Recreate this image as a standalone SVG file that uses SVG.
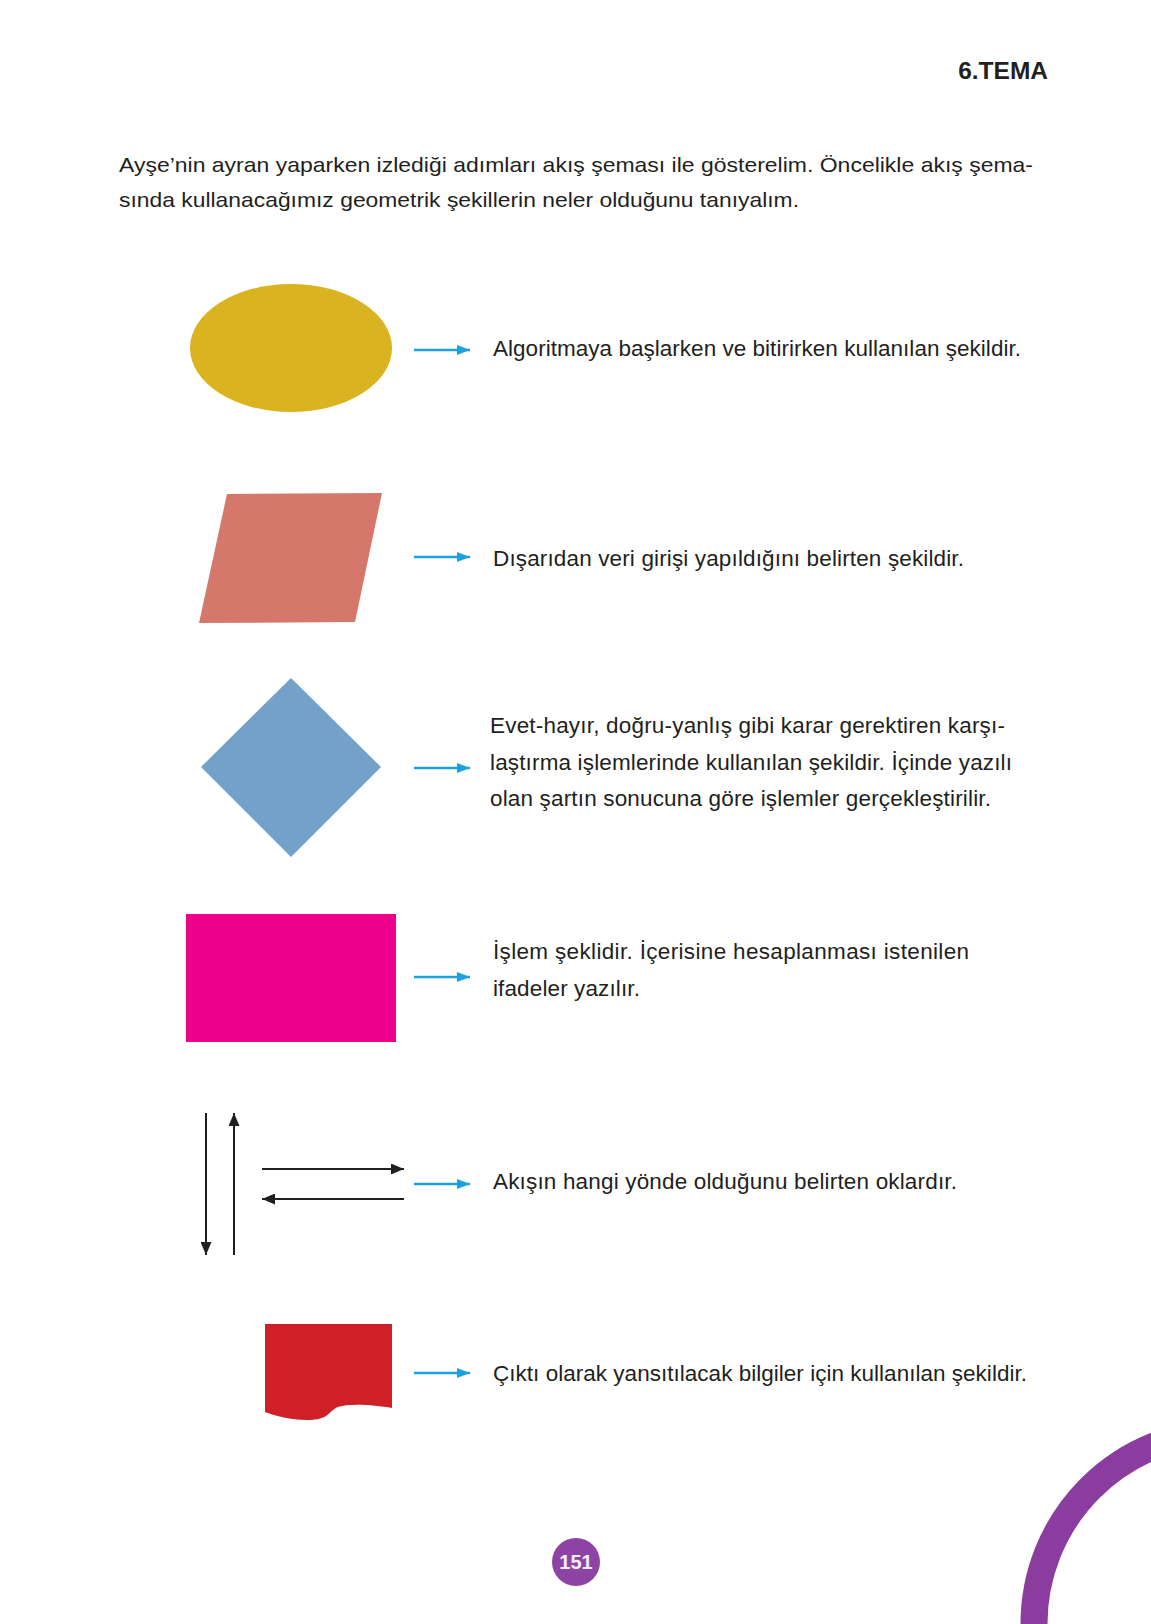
<svg xmlns="http://www.w3.org/2000/svg" width="1151" height="1624" viewBox="0 0 1151 1624">
<defs>
<style>
.t{font-family:"Liberation Sans","Noto Sans",Arial,sans-serif;font-size:22.5px;fill:#231f20}
.p{font-family:"Liberation Sans","Noto Sans",Arial,sans-serif;font-size:21px;fill:#231f20}
.blk{stroke:#231f20;stroke-width:2;fill:none}
.blu{stroke:#1ba1dd;stroke-width:2.6;fill:none;marker-end:url(#hb)}
</style>
<marker id="hk" markerUnits="userSpaceOnUse" markerWidth="13" markerHeight="11" refX="13" refY="5.5" orient="auto"><path d="M0,0 L13,5.5 L0,11 Z" fill="#231f20"/></marker>
<marker id="hb" markerUnits="userSpaceOnUse" markerWidth="13" markerHeight="10" refX="13" refY="5" orient="auto"><path d="M0,0 L13,5 L0,10 Z" fill="#1ba1dd"/></marker>
</defs>
<rect width="1151" height="1624" fill="#ffffff"/>
<g id="header">
<text x="1048" y="79" text-anchor="end" style="font-family:'Liberation Sans',Arial,sans-serif;font-weight:bold;font-size:24.5px;fill:#231f20">6.TEMA</text>
<text class="p" x="119" y="172" textLength="914" lengthAdjust="spacingAndGlyphs">Ayşe’nin ayran yaparken izlediği adımları akış şeması ile gösterelim. Öncelikle akış şema-</text>
<text class="p" x="119" y="207" textLength="680" lengthAdjust="spacingAndGlyphs">sında kullanacağımız geometrik şekillerin neler olduğunu tanıyalım.</text>
</g>
<g id="terminal">
<ellipse cx="291" cy="348" rx="101" ry="64" fill="#dab321"/>
<text class="t" x="493" y="356" textLength="528" lengthAdjust="spacing">Algoritmaya başlarken ve bitirirken kullanılan şekildir.</text>
</g>
<g id="input">
<polygon points="227,494 382,493 355,622 199,623" fill="#d5786b"/>
<text class="t" x="493" y="566" textLength="471" lengthAdjust="spacing">Dışarıdan veri girişi yapıldığını belirten şekildir.</text>
</g>
<g id="decision">
<polygon points="291,678 381,767 291,857 201,767" fill="#74a1c9"/>
<text class="t" x="490" y="733" textLength="515" lengthAdjust="spacing">Evet-hayır, doğru-yanlış gibi karar gerektiren karşı-</text>
<text class="t" x="490" y="770" textLength="522" lengthAdjust="spacing">laştırma işlemlerinde kullanılan şekildir. İçinde yazılı</text>
<text class="t" x="490" y="806" textLength="501" lengthAdjust="spacing">olan şartın sonucuna göre işlemler gerçekleştirilir.</text>
</g>
<g id="process">
<rect x="186" y="914" width="210" height="128" fill="#ec008c"/>
<text class="t" x="493" y="959" textLength="476" lengthAdjust="spacing">İşlem şeklidir. İçerisine hesaplanması istenilen</text>
<text class="t" x="493" y="996" textLength="147" lengthAdjust="spacing">ifadeler yazılır.</text>
</g>
<g id="flow-arrows">
<line class="blk" x1="206" y1="1113" x2="206" y2="1255" marker-end="url(#hk)"/>
<line class="blk" x1="234" y1="1255" x2="234" y2="1113" marker-end="url(#hk)"/>
<line class="blk" x1="262" y1="1169" x2="404" y2="1169" marker-end="url(#hk)"/>
<line class="blk" x1="404" y1="1199" x2="262" y2="1199" marker-end="url(#hk)"/>
<text class="t" x="493" y="1189" textLength="464" lengthAdjust="spacing">Akışın hangi yönde olduğunu belirten oklardır.</text>
</g>
<g id="output">
<path d="M265,1324 H392 V1408 C375,1405 350,1403 338,1407 C328,1411 330,1420 307,1420 C290,1420 276,1416 265,1412 Z" fill="#d02027"/>
<text class="t" x="493" y="1381" textLength="534" lengthAdjust="spacing">Çıktı olarak yansıtılacak bilgiler için kullanılan şekildir.</text>
</g>
<g id="connectors">
<line class="blu" x1="414" y1="350" x2="470" y2="350"/>
<line class="blu" x1="414" y1="557" x2="470" y2="557"/>
<line class="blu" x1="414" y1="768" x2="470" y2="768"/>
<line class="blu" x1="414" y1="977" x2="470" y2="977"/>
<line class="blu" x1="414" y1="1184" x2="470" y2="1184"/>
<line class="blu" x1="414" y1="1373" x2="470" y2="1373"/>
</g>
<g id="page-number">
<circle cx="576" cy="1562" r="24" fill="#8e44a4"/>
<text x="576" y="1569" text-anchor="middle" style="font-family:'Liberation Sans',Arial,sans-serif;font-weight:bold;font-size:20px;fill:#f2eef4">151</text>
</g>
<g id="decor">
<circle cx="1226" cy="1624" r="192" fill="none" stroke="#8b3c9f" stroke-width="27"/>
</g>
</svg>
